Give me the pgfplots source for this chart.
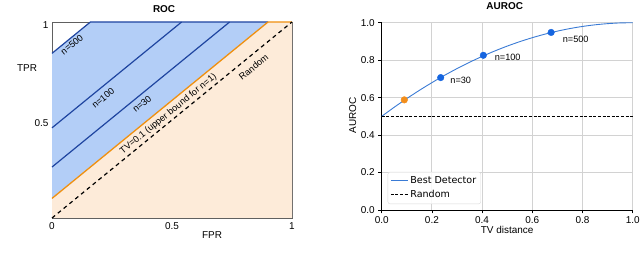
\documentclass[border=0pt]{standalone}
\usepackage{fontspec}
\setmainfont{Liberation Sans}
\newfontfamily\dejavu{DejaVu Sans}
\usepackage{pgfplots}
\pgfplotsset{compat=1.18}
\definecolor{peach}{HTML}{FDEBD9}
\definecolor{lblue}{HTML}{B3CEF7}
\definecolor{dblue}{HTML}{1F45A0}
\definecolor{orng}{HTML}{F0900F}
\definecolor{cblue}{HTML}{3A7BD5}
\definecolor{mblue}{HTML}{1565E0}
\definecolor{morng}{HTML}{F28E1C}
\begin{document}
\begin{tikzpicture}
% ---------------- ROC ----------------
\begin{axis}[
  at={(52bp,40bp)}, anchor=south west,
  scale only axis, width=240bp, height=196bp,
  xmin=0, xmax=1, ymin=0, ymax=1,
  xtick={0,0.5,1}, ytick={0.5,1},
  xticklabels={0,0.5,1}, yticklabels={0.5,1},
  major tick length=0pt,
  axis line style={gray!75!black, line width=0.6bp},
  tick label style={font=\fontsize{10}{12}\selectfont},
  yticklabel style={yshift=-3bp},
  xticklabel style={yshift=-1bp},
  clip=false,
]
\addplot[fill=peach, draw=none] coordinates {(0,0) (1,0) (1,1) (0.9,1) (0,0.1)} -- cycle;
\addplot[fill=lblue, draw=none] coordinates {(0,0.1) (0.9,1) (0.16,1) (0,0.84)} -- cycle;
\addplot[dblue, line width=1.2bp] coordinates {(0,0.84) (0.16,1) (0.9,1)};
\addplot[dblue, line width=1.2bp] coordinates {(0,0.46) (0.54,1)};
\addplot[dblue, line width=1.2bp] coordinates {(0,0.26) (0.74,1)};
\addplot[orng, line width=1.3bp] coordinates {(0,0.1) (0.9,1) (1,1)};
\addplot[black, line width=1.2bp, dash pattern=on 4bp off 3.5bp] coordinates {(0,0) (1,1)};
\node[rotate=39.2, font=\fontsize{9.2}{10}\selectfont] at (axis cs:0.083,0.885) {n=500};
\node[rotate=39.2, font=\fontsize{9.2}{10}\selectfont] at (axis cs:0.213,0.612) {n=100};
\node[rotate=39.2, font=\fontsize{9.2}{10}\selectfont] at (axis cs:0.375,0.582) {n=30};
\node[rotate=39.2, font=\fontsize{9.2}{10}\selectfont] at (axis cs:0.485,0.53) {TV=0.1 (upper bound for n=1)};
\node[rotate=39.2, font=\fontsize{9.2}{10}\selectfont] at (axis cs:0.84,0.77) {Random};
\node[font=\fontsize{10}{12}\selectfont] at (axis cs:-0.104,0.765) {TPR};
\node[font=\fontsize{10}{12}\selectfont] at (axis cs:0.667,0) [yshift=-17bp] {FPR};
\node[font=\bfseries\fontsize{10}{12}\selectfont] at (rel axis cs:0.467,1) [yshift=13bp] {ROC};
\end{axis}
% ---------------- AUROC ----------------
\begin{axis}[
  at={(381.7bp,48bp)}, anchor=south west,
  scale only axis, width=251bp, height=187.3bp,
  xmin=0, xmax=1, ymin=0, ymax=1,
  xtick={0,0.2,0.4,0.6,0.8,1}, ytick={0,0.2,0.4,0.6,0.8,1},
  xticklabels={0.0,0.2,0.4,0.6,0.8,1.0},
  yticklabels={0.0,0.2,0.4,0.6,0.8,1.0},
  axis x line*=bottom, axis y line*=left,
  axis line style={black, line width=0.7bp, -},
  tick align=outside, major tick length=3.5bp,
  tick style={black, line width=0.7bp},
  grid=major, grid style={gray!35, line width=0.9bp},
  tick label style={font=\fontsize{10}{12}\selectfont},
  clip=false,
  legend style={at={(rel axis cs:0.024,0.032)}, anchor=south west,
    draw=gray!30, rounded corners=2bp, fill=white, fill opacity=0.85, text opacity=1,
    font=\dejavu\fontsize{9.6}{11}\selectfont, row sep=1.5bp, inner sep=2.5bp},
  legend cell align=left,
]
\addplot[cblue, line width=0.9bp, smooth] coordinates {
(0,0.5) (0.05,0.54875) (0.1,0.595) (0.15,0.63875) (0.2,0.68) (0.25,0.71875)
(0.3,0.755) (0.35,0.78875) (0.4,0.82) (0.45,0.84875) (0.5,0.875) (0.55,0.89875)
(0.6,0.92) (0.65,0.93875) (0.7,0.955) (0.75,0.96875) (0.8,0.98) (0.85,0.98875)
(0.9,0.995) (0.95,0.99875) (1,1)};
\addlegendentry{Best Detector}
\addplot[black, line width=0.9bp, dash pattern=on 3bp off 1.6bp] coordinates {(0,0.5) (1,0.5)};
\addlegendentry{Random}
\addplot[only marks, mark=*, mark size=3.3bp, mark options={fill=morng, draw=morng}, forget plot] coordinates {(0.09,0.588)};
\addplot[only marks, mark=*, mark size=3.3bp, mark options={fill=mblue, draw=mblue}, forget plot] coordinates {(0.235,0.707) (0.405,0.826) (0.675,0.948)};
\node[font=\fontsize{9.2}{10}\selectfont] at (axis cs:0.315,0.69) {n=30};
\node[font=\fontsize{9.2}{10}\selectfont] at (axis cs:0.502,0.813) {n=100};
\node[font=\fontsize{9.2}{10}\selectfont] at (axis cs:0.773,0.911) {n=500};
\node[font=\fontsize{10}{12}\selectfont] at (axis cs:0.5,0) [yshift=-20bp] {TV distance};
\node[font=\fontsize{10}{12}\selectfont, rotate=90] at (axis cs:-0.1155,0.505) {AUROC};
\node[font=\bfseries\fontsize{10}{12}\selectfont] at (rel axis cs:0.49,1) [yshift=17bp] {AUROC};
\end{axis}
\pgfresetboundingbox
\path[use as bounding box] (0,0) rectangle (640bp,258bp);
\end{tikzpicture}
\end{document}
